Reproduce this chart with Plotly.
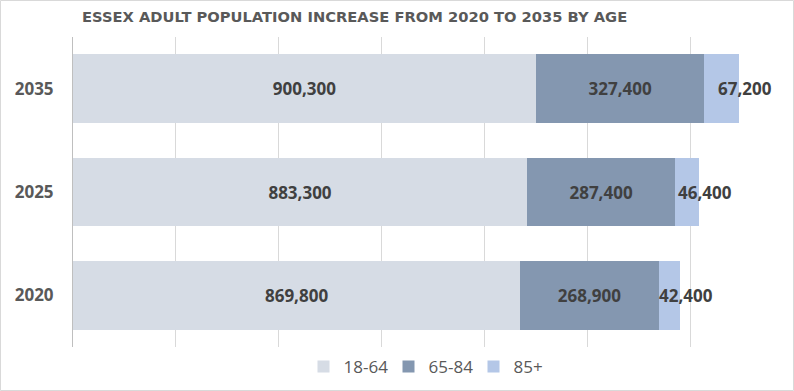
import plotly.graph_objects as go

years = ["2020", "2025", "2035"]
age_groups = ["18-64", "65-84", "85+"]
pop_18_64 = [869800, 883300, 900300]
pop_65_84 = [268900, 287400, 327400]
pop_85_plus = [42400, 46400, 67200]
colors = ["#d6dce5", "#8497b0", "#b4c7e7"]
title_text = "ESSEX ADULT POPULATION INCREASE FROM 2020 TO 2035 BY AGE"

W, H = 794, 391
L, R, T, B = 73, 1, 37, 44

label_font = dict(family="Open Sans", size=17, color="#404040")

fig = go.Figure()
series = [pop_18_64, pop_65_84, pop_85_plus]
for i, (name, vals) in enumerate(zip(age_groups, series)):
    show_text = i < 2
    fig.add_trace(go.Bar(
        y=years, x=vals, name=name, orientation="h",
        marker=dict(color=colors[i], line=dict(width=0)),
        text=[f"<b>{v:,}</b>" for v in vals] if show_text else None,
        textposition="inside" if show_text else "none",
        insidetextanchor="middle", constraintext="none", textangle=0,
        insidetextfont=label_font,
        hoverinfo="x+name",
    ))

# labels for the 85+ segments, placed at the end of each stacked bar
totals = [a + b + c for a, b, c in zip(pop_18_64, pop_65_84, pop_85_plus)]
for idx, (tot, v) in enumerate(zip(totals, pop_85_plus)):
    fig.add_annotation(x=tot, y=idx, xref="x", yref="y", text=f"<b>{v:,}</b>",
                       showarrow=False, xanchor="center", yanchor="middle",
                       xshift=6, font=label_font)

pw = W - L - R
ph = H - T - B
fig.add_shape(type="rect", xref="paper", yref="paper",
              x0=(0.5 - L) / pw, x1=(W - 0.5 - L) / pw,
              y0=(H - B - (H - 0.5)) / ph, y1=(H - B - 0.5) / ph,
              line=dict(color="#d9d9d9", width=1), fillcolor="rgba(0,0,0,0)",
              layer="above")

fig.update_layout(
    width=W, height=H,
    margin=dict(l=L, r=R, t=T, b=B, pad=0),
    barmode="stack", bargap=0.333,
    paper_bgcolor="white", plot_bgcolor="white",
    font=dict(family="Open Sans", color="#595959"),
    title=dict(text=f"<b>{title_text}</b>", x=82 / W, xanchor="left",
               xref="container", yref="container", y=1 - 17 / H, yanchor="middle",
               font=dict(family="DejaVu Sans", size=14.7, color="#595959")),
    xaxis=dict(range=[0, 1400000], dtick=200000, showticklabels=False,
               showgrid=True, gridcolor="#d9d9d9", gridwidth=1, zeroline=False,
               showline=False, fixedrange=True),
    yaxis=dict(type="category", categoryorder="array", categoryarray=years,
               range=[-0.5, len(years) - 0.5], autorange=False,
               showline=True, linecolor="#bfbfbf", linewidth=1, ticks="",
               ticklabelstandoff=15, showgrid=False,
               tickfont=dict(family="Open Sans", size=17, color="#595959", weight="bold")),
    legend=dict(orientation="h", x=(431 - L) / pw, xanchor="center",
                yref="container", y=1 - 367 / H, yanchor="middle",
                font=dict(family="Open Sans", size=17, color="#595959"),
                entrywidth=40, entrywidthmode="pixels",
                traceorder="normal", itemclick=False),
    showlegend=True,
)

fig.write_html("out.html", config={"displayModeBar": False},
               post_script="document.body.style.margin='0';document.body.style.overflow='hidden';")
